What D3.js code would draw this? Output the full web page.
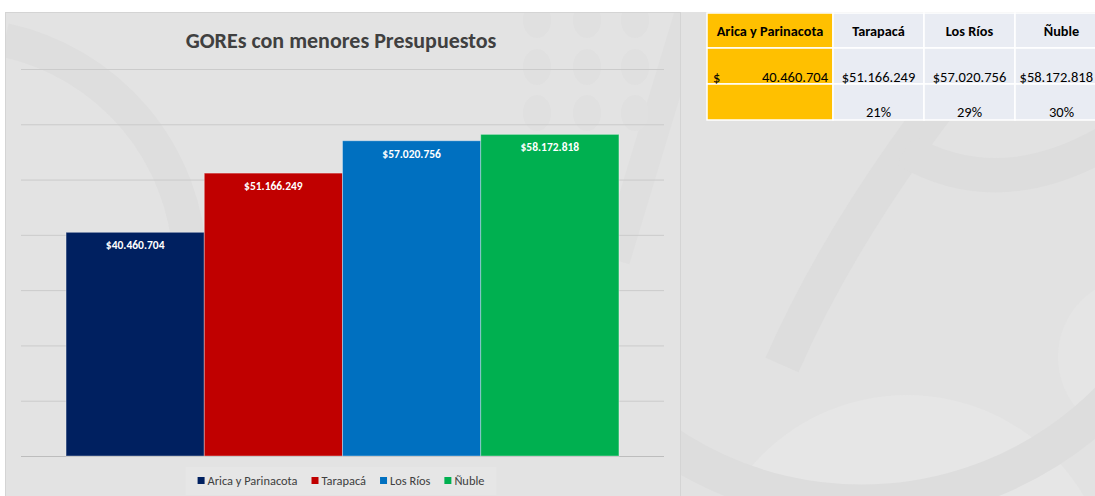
<!DOCTYPE html>
<html>
<head>
<meta charset="utf-8">
<script src="https://cdn.jsdelivr.net/npm/d3@7"></script>
<style>
  body { margin: 0; background: #fff; }
  svg { display: block; font-family: Carlito, Calibri, Lato, sans-serif; }
</style>
</head>
<body>
<svg id="chart" width="1095" height="496"></svg>
<script>
// data
const regions = ["Arica y Parinacota", "Tarapacá", "Los Ríos", "Ñuble"];
const budgets = [40460704, 51166249, 57020756, 58172818];
const diffLabels = ["", "21%", "29%", "30%"];
const yTicks = [0, 10e6, 20e6, 30e6, 40e6, 50e6, 60e6, 70e6];
const colors = ["#002060", "#C00000", "#0070C0", "#00B050"];

const fmt = v => "$" + d3.format(",")(v).replace(/,/g, ".");

const svg = d3.select("#chart");

svg.append("defs").append("clipPath").attr("id", "areaClip")
    .append("rect").attr("x", 6).attr("y", 13).attr("width", 674).attr("height", 483);

// background
svg.append("rect").attr("width", 1095).attr("height", 496).attr("fill", "#e2e2e2");

const deco = svg.append("g").attr("fill", "none");
deco.append("circle").attr("cx", 907).attr("cy", 600).attr("r", 205).attr("fill", "#e6e6e6");
deco.append("circle").attr("cx", 1138).attr("cy", 357).attr("r", 80).attr("fill", "#e5e5e5");
deco.append("path").attr("d", "M 540,290 A 349,349 0 0 0 1200,240")
    .attr("stroke", "#dddddd").attr("stroke-width", 38);
deco.append("path").attr("d", "M 782,365 Q 850,210 990,40")
    .attr("stroke", "#dddddd").attr("stroke-width", 36);
deco.append("path").attr("d", "M 905,150 Q 1000,205 1110,140")
    .attr("stroke", "#dddddd").attr("stroke-width", 34);

// white strip on top / left
svg.append("rect").attr("width", 1095).attr("height", 12).attr("fill", "#fff");
svg.append("rect").attr("width", 5).attr("height", 496).attr("fill", "#fff");

// chart area
const area = svg.append("g");
area.append("rect")
    .attr("x", 5.5).attr("y", 12.5).attr("width", 675).attr("height", 490)
    .attr("fill", "#e3e3e3").attr("stroke", "#d4d4d4");

const inner = area.append("g").attr("fill", "none").attr("clip-path", "url(#areaClip)");
inner.append("path").attr("d", "M 5,40 A 235,235 0 0 1 190,260")
    .attr("stroke", "#dedede").attr("stroke-width", 34);
inner.append("path").attr("d", "M 690,12 L 615,260")
    .attr("stroke", "#dfdfdf").attr("stroke-width", 30);
[537, 587, 635].forEach(cx => [20, 67, 113].forEach(cy => {
    inner.append("ellipse").attr("cx", cx).attr("cy", cy).attr("rx", 14).attr("ry", 18)
        .attr("fill", "#e0e0e0");
}));

// scales
const x = d3.scaleBand().domain(regions).range([21, 664]).paddingInner(0).paddingOuter(0.326);
const y = d3.scaleLinear().domain([0, 70e6]).range([456, 69]);

// gridlines
area.append("g")
    .attr("transform", "translate(21,0)")
    .call(d3.axisLeft(y).tickValues(yTicks).tickSize(-643).tickFormat(""))
    .call(g => g.select(".domain").remove())
    .call(g => g.selectAll(".tick line").attr("stroke", "#cbcbcb"))
    .call(g => g.selectAll(".tick").filter(d => d === 0).select("line").attr("stroke", "#bdbdbd"));

// bars
area.selectAll(".bar")
    .data(regions)
    .join("rect")
    .attr("class", "bar")
    .attr("x", d => x(d))
    .attr("y", (d, i) => y(budgets[i]))
    .attr("width", x.bandwidth())
    .attr("height", (d, i) => y(0) - y(budgets[i]))
    .attr("fill", (d, i) => colors[i])
    .attr("stroke", "rgba(255,255,255,0.35)")
    .attr("stroke-width", 1);

area.selectAll(".lbl")
    .data(regions)
    .join("text")
    .attr("class", "lbl")
    .attr("x", d => x(d) + x.bandwidth() / 2)
    .attr("y", (d, i) => y(budgets[i]) + 17)
    .attr("text-anchor", "middle")
    .attr("fill", "#fff")
    .attr("font-weight", "bold")
    .attr("font-size", 11.5)
    .text((d, i) => fmt(budgets[i]));

// title
area.append("text")
    .attr("x", 341).attr("y", 47.5)
    .attr("text-anchor", "middle")
    .attr("fill", "#404040")
    .attr("font-weight", "bold")
    .attr("font-size", 22)
    .text("GOREs con menores Presupuestos");

// legend
const leg = area.append("g");
const legBg = leg.append("rect").attr("fill", "rgba(255,255,255,0.12)");
let lx = 0;
const items = leg.selectAll("g").data(regions).join("g");
items.append("rect").attr("y", -4).attr("width", 7).attr("height", 7).attr("fill", (d, i) => colors[i]);
items.append("text").attr("x", 10).attr("y", 4)
    .attr("font-size", 12.4).attr("fill", "#404040").text(d => d);
items.each(function () {
    const w = d3.select(this).select("text").node().getComputedTextLength();
    d3.select(this).attr("transform", `translate(${lx},0)`);
    lx += 10 + w + 14;
});
lx -= 14;
leg.attr("transform", `translate(${341 - lx / 2},481)`);
legBg.attr("x", -12).attr("y", -14).attr("width", lx + 24).attr("height", 28);

// table (last column runs past the right edge)
const colX = [707, 833, 924, 1015, 1108];
const rowY = [13, 48, 84, 120];
const table = svg.append("g");
regions.forEach((r, i) => {
    for (let j = 0; j < 3; j++) {
        table.append("rect")
            .attr("x", colX[i]).attr("y", rowY[j])
            .attr("width", colX[i + 1] - colX[i]).attr("height", rowY[j + 1] - rowY[j])
            .attr("fill", i === 0 ? "#FFC000" : "#E9ECF3")
            .attr("stroke", "#fff").attr("stroke-width", 1.5);
    }
    const cx = (colX[i] + colX[i + 1]) / 2;
    table.append("text")
        .attr("x", cx).attr("y", 36).attr("text-anchor", "middle")
        .attr("font-weight", "bold").attr("font-size", 14.3).attr("fill", "#000")
        .text(r);
    if (i === 0) {
        table.append("text").attr("x", 713).attr("y", 81.5).attr("font-size", 14.5).attr("fill", "#000").text("$");
        table.append("text").attr("x", 828).attr("y", 81.5).attr("text-anchor", "end")
            .attr("font-size", 14.5).attr("fill", "#000").text(fmt(budgets[i]).slice(1));
    } else if (i === regions.length - 1) {
        // keep the last amount inside the page
        table.append("text").attr("x", 1093).attr("y", 81.5).attr("text-anchor", "end")
            .attr("font-size", 14.5).attr("fill", "#000").text(fmt(budgets[i]));
    } else {
        table.append("text").attr("x", cx).attr("y", 81.5).attr("text-anchor", "middle")
            .attr("font-size", 14.5).attr("fill", "#000").text(fmt(budgets[i]));
    }
    table.append("text").attr("x", cx).attr("y", 116.5).attr("text-anchor", "middle")
        .attr("font-size", 14.5).attr("fill", "#000").text(diffLabels[i]);
});
</script>
</body>
</html>
